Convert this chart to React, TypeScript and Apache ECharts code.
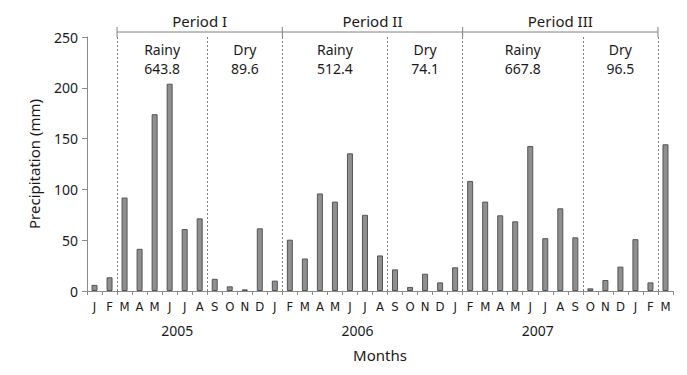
import React, { useEffect, useRef } from "react";
import * as echarts from "echarts";

const monthLabels = [
  "J", "F", "M", "A", "M", "J", "J", "A", "S", "O", "N", "D",
  "J", "F", "M", "A", "M", "J", "J", "A", "S", "O", "N", "D",
  "J", "F", "M", "A", "M", "J", "J", "A", "S", "O", "N", "D",
  "J", "F", "M",
];

const precipitation = [
  6, 13.5, 92, 41.5, 174, 204, 61, 71.5, 12, 4.6, 1.6, 61.7,
  10.2, 50.5, 32, 96, 88, 135.5, 75, 35, 21.3, 4, 17, 8.5,
  23.3, 108.3, 88, 74.5, 68.6, 142.7, 52, 81.4, 52.8, 2.6, 10.8, 24,
  51, 8.5, 144.4,
];

const yearLabels: Record<number, string> = { 6: "2005", 18: "2006", 30: "2007" };

// period boundaries (month-boundary index) and season split boundaries
const periodBounds = [2, 13, 25, 38];
const seasonSplits = [8, 20, 33];
const periodNames = ["Period I", "Period II", "Period III"];
const seasonNames = ["Rainy", "Dry"];
const rainyTotals = ["643.8", "512.4", "667.8"];
const dryTotals = ["89.6", "74.1", "96.5"];

const FONT = '"Noto Sans", "Open Sans", sans-serif';
const MONTH_FONT = '"Liberation Sans Narrow", "DejaVu Sans Condensed", "Noto Sans", sans-serif';
const AXIS_GRAY = "#8a8a8a";
const DASH_GRAY = "#808080";
const TEXT = "#1a1a1a";

export default function App() {
  const ref = useRef<HTMLDivElement>(null);

  useEffect(() => {
    if (!ref.current) return;
    const chart = echarts.init(ref.current, undefined, { renderer: "svg" });

    const allBounds = [...periodBounds, ...seasonSplits].sort((a, b) => a - b);
    const nameAreas: any[] = [];
    const totalAreas: any[] = [];
    for (let i = 0; i < periodNames.length; i++) {
      const spans = [
        [periodBounds[i], seasonSplits[i], seasonNames[0], rainyTotals[i]],
        [seasonSplits[i], periodBounds[i + 1], seasonNames[1], dryTotals[i]],
      ] as [number, number, string, string][];
      spans.forEach(([a, b, nm, tot]) => {
        nameAreas.push([
          { xAxis: a, yAxis: 250, label: { formatter: nm } },
          { xAxis: b, yAxis: 0 },
        ]);
        totalAreas.push([
          { xAxis: a, yAxis: 250, label: { formatter: tot } },
          { xAxis: b, yAxis: 0 },
        ]);
      });
    }

    const areaLabel = (distance: number) => ({
      show: true,
      position: "insideTop",
      distance,
      fontSize: 14,
      lineHeight: 17,
      color: TEXT,
      fontFamily: FONT,
      align: "center",
    });

    const gridTop = 37;

    chart.setOption({
      animation: false,
      textStyle: { fontFamily: FONT },
      grid: { left: 87, right: 14, top: gridTop, bottom: 84 },
      xAxis: [
        {
          type: "category",
          data: monthLabels,
          boundaryGap: true,
          axisLine: { lineStyle: { color: AXIS_GRAY, width: 1 } },
          axisTick: { show: true, length: 4, lineStyle: { color: AXIS_GRAY } },
          axisLabel: {
            interval: 0,
            margin: 9,
            fontSize: 13,
            color: TEXT,
            fontFamily: MONTH_FONT,
          },
          name: "Months",
          nameLocation: "middle",
          nameGap: 56,
          nameTextStyle: { fontSize: 15, color: TEXT, fontFamily: FONT },
        },
        {
          type: "value",
          position: "bottom",
          min: 0,
          max: 39,
          interval: 6,
          axisLine: { show: false },
          axisTick: { show: false },
          splitLine: { show: false },
          axisLabel: {
            margin: 32,
            fontSize: 14,
            color: TEXT,
            fontFamily: FONT,
            formatter: (v: number) => yearLabels[v] || "",
          },
        },
      ],
      yAxis: {
        type: "value",
        min: 0,
        max: 250,
        interval: 50,
        axisLine: { show: true, lineStyle: { color: AXIS_GRAY, width: 1 } },
        axisTick: { show: true, length: 5, lineStyle: { color: AXIS_GRAY } },
        splitLine: { show: false },
        axisLabel: { fontSize: 14, color: TEXT, margin: 9, fontFamily: FONT },
        name: "Precipitation (mm)",
        nameLocation: "middle",
        nameGap: 46,
        nameTextStyle: { fontSize: 15, color: TEXT, fontFamily: FONT },
      },
      series: [
        {
          type: "bar",
          xAxisIndex: 0,
          yAxisIndex: 0,
          data: precipitation,
          barWidth: 6,
          itemStyle: { color: "#8f8f8f", borderColor: "#555555", borderWidth: 1 },
          silent: true,
        },
        {
          type: "line",
          xAxisIndex: 1,
          yAxisIndex: 0,
          data: [],
          silent: true,
          markLine: {
            silent: true,
            symbol: ["none", "none"],
            label: { show: false },
            lineStyle: { type: [2, 2], color: DASH_GRAY, width: 1 },
            data: allBounds.map((b) => ({ xAxis: b })),
          },
          markArea: {
            silent: true,
            itemStyle: { color: "rgba(0,0,0,0)" },
            label: areaLabel(4),
            data: nameAreas,
          },
        },
        {
          type: "line",
          xAxisIndex: 1,
          yAxisIndex: 0,
          data: [],
          silent: true,
          markArea: {
            silent: true,
            itemStyle: { color: "rgba(0,0,0,0)" },
            label: areaLabel(23),
            data: totalAreas,
          },
        },
      ],
    });

    // bracket annotations above the plot, positioned through the axis scale
    const px = (v: number) => chart.convertToPixel({ xAxisIndex: 1 }, v) as number;
    const bracketY = gridTop - 5;
    const graphics: any[] = [];
    graphics.push({
      type: "line",
      shape: { x1: px(periodBounds[0]), y1: bracketY, x2: px(periodBounds[periodBounds.length - 1]), y2: bracketY },
      style: { stroke: DASH_GRAY, lineWidth: 1 },
      silent: true,
    });
    periodBounds.forEach((b) => {
      graphics.push({
        type: "line",
        shape: { x1: px(b), y1: bracketY - 5, x2: px(b), y2: gridTop },
        style: { stroke: DASH_GRAY, lineWidth: 1 },
        silent: true,
      });
    });
    periodNames.forEach((name, i) => {
      graphics.push({
        type: "text",
        x: (px(periodBounds[i]) + px(periodBounds[i + 1])) / 2,
        y: bracketY - 11,
        style: {
          text: name,
          fontSize: 15,
          fontFamily: FONT,
          fill: TEXT,
          textAlign: "center",
          textVerticalAlign: "middle",
        },
        silent: true,
      });
    });
    chart.setOption({ graphic: graphics });

    return () => chart.dispose();
  }, []);

  return <div ref={ref} style={{ width: 687, height: 375, margin: -8 }} />;
}
